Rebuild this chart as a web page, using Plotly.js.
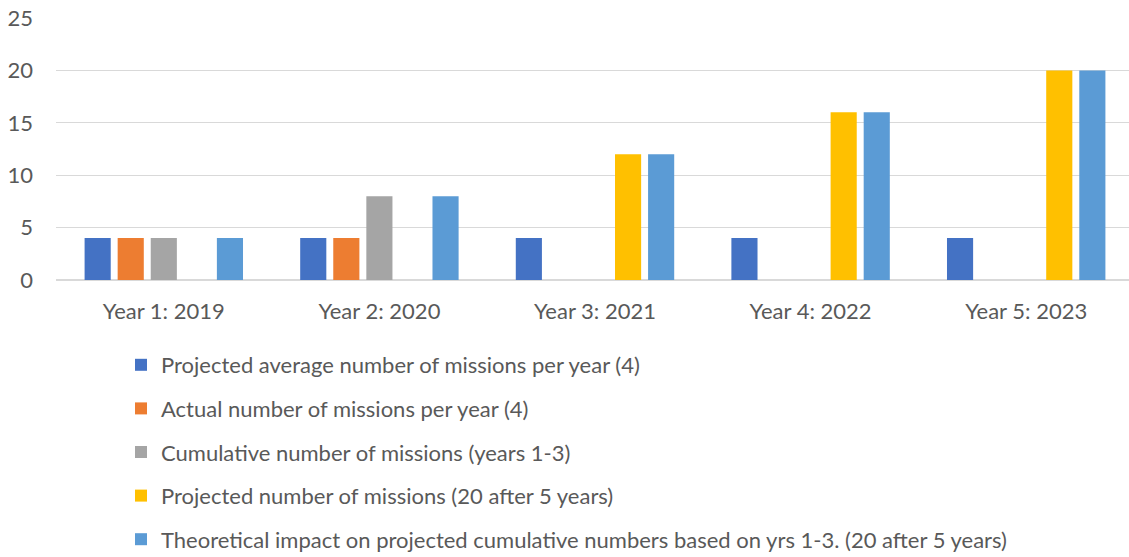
<!DOCTYPE html>
<html>
<head>
<meta charset="utf-8">
<script src="https://cdn.plot.ly/plotly-3.0.1.min.js"></script>
<style>html,body{margin:0;padding:0;overflow:hidden;background:#fff;}</style>
</head>
<body>
<div id="chart"></div>
<script>
const categories = ["Year 1: 2019", "Year 2: 2020", "Year 3: 2021", "Year 4: 2022", "Year 5: 2023"];
const seriesNames = [
  "Projected average number of missions per year (4)",
  "Actual number of missions per year (4)",
  "Cumulative number of missions (years 1-3)",
  "Projected number of missions (20 after 5 years)",
  "Theoretical impact on projected cumulative numbers based on yrs 1-3. (20 after 5 years)"
];
const projectedAverage = [4, 4, 4, 4, 4];
const actualNumber = [4, 4, null, null, null];
const cumulativeNumber = [4, 8, null, null, null];
const projectedNumber = [null, null, 12, 16, 20];
const theoreticalImpact = [4, 8, 12, 16, 20];
const colors = ["#4472C4", "#ED7D31", "#A5A5A5", "#FFC000", "#5B9BD5"];
const allSeries = [projectedAverage, actualNumber, cumulativeNumber, projectedNumber, theoreticalImpact];

const font = "Lato, 'Open Sans', sans-serif";
const traces = allSeries.map((vals, i) => ({
  type: "bar",
  x: categories,
  y: vals,
  name: seriesNames[i],
  legendgroup: "g" + i,
  marker: {color: colors[i]},
  hoverinfo: "x+y+name"
}));

const layout = {
  width: 1134,
  height: 557,
  margin: {l: 56, r: 0, t: 18, b: 277, autoexpand: false},
  paper_bgcolor: "#fff",
  plot_bgcolor: "#fff",
  barmode: "group",
  bargap: 0.233,
  bargroupgap: 0.21,
  font: {family: font, size: 22, color: "#595959"},
  showlegend: true,
  legend: {
    orientation: "v",
    xref: "container", yref: "container",
    x: 121 / 1134, y: 1 - 344 / 557,
    xanchor: "left", yanchor: "top",
    traceorder: "grouped",
    tracegroupgap: 12,
    font: {family: font, size: 22, color: "#595959"},
    bgcolor: "rgba(0,0,0,0)"
  },
  xaxis: {
    type: "category",
    showgrid: false,
    zeroline: false,
    showline: false,
    ticks: "",
    tickangle: 0,
    automargin: false,
    ticklabelstandoff: 16,
    tickfont: {family: font, size: 22, color: "#595959"}
  },
  yaxis: {
    range: [0, 25],
    tick0: 0,
    dtick: 5,
    automargin: false,
    showgrid: true,
    gridcolor: "#D9D9D9",
    gridwidth: 1.3,
    zeroline: true,
    zerolinecolor: "#D9D9D9",
    zerolinewidth: 1.3,
    showline: false,
    ticks: "",
    ticklabelstandoff: 22,
    tickfont: {family: font, size: 22, color: "#595959"}
  }
};

Plotly.newPlot("chart", traces, layout, {displayModeBar: false, staticPlot: true});
</script>
</body>
</html>
